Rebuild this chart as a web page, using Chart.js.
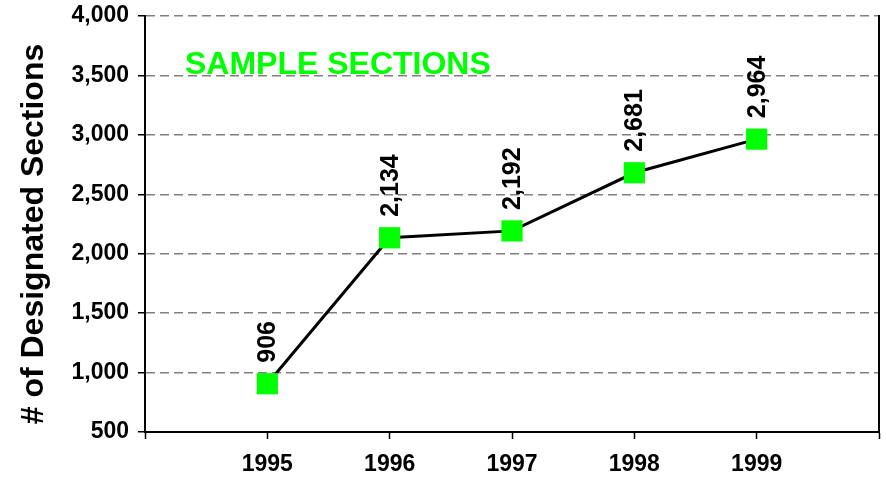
<!DOCTYPE html>
<html>
<head>
<meta charset="utf-8">
<script src="https://cdn.jsdelivr.net/npm/chart.js@4/dist/chart.umd.min.js"></script>
<style>
  html, body { margin: 0; padding: 0; background: #fff; }
  #wrap { width: 886px; height: 479px; }
</style>
</head>
<body>
<div id="wrap"><canvas id="sectionsChart" width="886" height="479"></canvas></div>
<script>
// data
const YEARS = [1995, 1996, 1997, 1998, 1999];
const SECTIONS = [906, 2134, 2192, 2681, 2964];
const Y_TICKS = [500, 1000, 1500, 2000, 2500, 3000, 3500, 4000];

const AXIS_TITLE = "# of Designated Sections";
const NOTE_TEXT = "SAMPLE SECTIONS";

const GREEN = "#00ff00";
const FONT = "'Liberation Sans', Arial, sans-serif";

// ---------------------------------------------
// value labels, axis title and the green note
// ---------------------------------------------
const extrasPlugin = {
  id: "extras",
  afterDatasetsDraw(chart) {
    const ctx = chart.ctx;
    const meta = chart.getDatasetMeta(0);
    ctx.save();
    ctx.fillStyle = "#000";
    ctx.font = "bold 25px " + FONT;
    ctx.textAlign = "left";
    ctx.textBaseline = "middle";
    meta.data.forEach((pt, i) => {
      ctx.save();
      ctx.translate(pt.x, pt.y - 21);
      ctx.rotate(-Math.PI / 2);
      ctx.fillText(SECTIONS[i].toLocaleString("en-US"), 0, 1);
      ctx.restore();
    });
    ctx.restore();
  },
  afterDraw(chart) {
    const ctx = chart.ctx;
    const area = chart.chartArea;
    ctx.save();
    // axis title
    ctx.fillStyle = "#000";
    ctx.font = "bold 32px " + FONT;
    ctx.textAlign = "center";
    ctx.textBaseline = "middle";
    ctx.translate(34, 234);
    ctx.rotate(-Math.PI / 2);
    ctx.fillText(AXIS_TITLE, 0, 0);
    ctx.restore();

    // note in the top left of the plot
    ctx.save();
    ctx.fillStyle = GREEN;
    ctx.font = "bold 32px " + FONT;
    ctx.textAlign = "left";
    ctx.textBaseline = "alphabetic";
    ctx.fillText(NOTE_TEXT, area.left + 40, area.top + 58);
    ctx.restore();
  }
};

// drop the automatic label overflow padding so the plot edges stay put
function noPad(s) {
  s.paddingTop = 0;
  s.paddingBottom = 0;
  s.paddingLeft = 0;
  s.paddingRight = 0;
}

new Chart(document.getElementById("sectionsChart"), {
  type: "line",
  data: {
    datasets: [{
      data: YEARS.map((yr, i) => ({ x: yr, y: SECTIONS[i] })),
      borderColor: "#000",
      borderWidth: 3,
      tension: 0,
      pointStyle: "rect",
      pointRadius: 15,
      pointHoverRadius: 15,
      pointBackgroundColor: GREEN,
      pointBorderColor: GREEN,
      pointBorderWidth: 0
    }]
  },
  options: {
    responsive: false,
    animation: false,
    events: [],
    layout: {
      autoPadding: false,
      padding: { top: 16, right: 7, left: 0, bottom: 0 }
    },
    plugins: {
      legend: { display: false },
      tooltip: { enabled: false }
    },
    scales: {
      x: {
        type: "linear",
        min: YEARS[0] - 1,
        max: YEARS[YEARS.length - 1] + 1,
        afterBuildTicks: (s) => {
          s.ticks = [];
          for (let v = s.min; v <= s.max; v++) s.ticks.push({ value: v });
        },
        afterFit: (s) => { s.height = 47; noPad(s); },
        ticks: {
          color: "#000",
          font: { family: FONT, size: 23, weight: "bold" },
          padding: 12,
          maxRotation: 0,
          callback: (v) => (YEARS.includes(v) ? String(v) : "")
        },
        grid: {
          drawOnChartArea: false,
          tickLength: 7,
          tickColor: "#000",
          tickWidth: 1.5
        },
        border: { color: "#000", width: 2 }
      },
      y: {
        min: Y_TICKS[0],
        max: Y_TICKS[Y_TICKS.length - 1],
        afterBuildTicks: (s) => { s.ticks = Y_TICKS.map((v) => ({ value: v })); },
        afterFit: (s) => { s.width = 145; noPad(s); },
        ticks: {
          color: "#000",
          font: { family: FONT, size: 23, weight: "bold" },
          padding: 9,
          callback: (v) => v.toLocaleString("en-US")
        },
        grid: {
          color: "#808080",
          lineWidth: 1.5,
          tickLength: 7,
          tickColor: "#000",
          tickWidth: 1.5
        },
        border: { color: "#000", width: 2, dash: [9, 5] }
      },
      yRight: {
        position: "right",
        min: Y_TICKS[0],
        max: Y_TICKS[Y_TICKS.length - 1],
        afterFit: (s) => { s.width = 0; noPad(s); },
        ticks: { display: false },
        grid: { display: false },
        border: { color: "#000", width: 2 }
      }
    }
  },
  plugins: [extrasPlugin]
});
</script>
</body>
</html>
